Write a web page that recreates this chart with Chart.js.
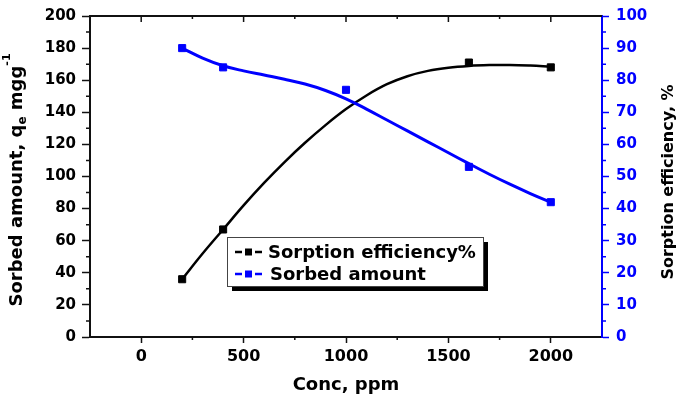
<!DOCTYPE html>
<html lang="en">
<head>
    <meta charset="UTF-8">
    <title>Sorption vs Conc</title>
    <style>
        * { margin: 0; padding: 0; box-sizing: border-box; }
        body { background: #fff; width: 685px; height: 402px; overflow: hidden; }
        .chart-box { position: relative; width: 685px; height: 402px; }
        canvas { display: block; }
    </style>
</head>
<body>
    <div class="chart-box"><canvas id="chart" width="685" height="402"></canvas></div>

    <script src="https://cdn.jsdelivr.net/npm/chart.js"></script>
    <script>
        // measured points
        const concBlack = [200, 400, 1600, 2000];
        const effPoints = [36, 67, 171, 168];
        const concBlue = [200, 400, 1000, 1600, 2000];
        const sorbPoints = [90, 84, 77, 53, 42];

        // fitted curves
        const concFit = [200, 300, 400, 500, 600, 700, 800, 900, 1000, 1100, 1200, 1300, 1400, 1500, 1600, 1700, 1800, 1900, 2000];
        const effCurve = [36, 52, 67, 82, 96, 109, 121, 132, 142, 150.5, 157.5, 162.5, 165.8, 167.8, 168.9, 169.4, 169.5, 169.1, 168.4];
        const sorbCurve = [90, 86.9, 84.5, 82.9, 81.6, 80.3, 78.8, 76.8, 74.2, 71.0, 67.6, 64.2, 60.8, 57.4, 54.0, 50.7, 47.6, 44.7, 42.0];

        const xTicks = [0, 500, 1000, 1500, 2000];
        const labels = ['Sorption efficiency%', 'Sorbed amount'];

        const BLUE = '#0000ff';
        const FONT = '"DejaVu Sans", sans-serif';

        const pts = (xs, ys) => xs.map((x, i) => ({ x: x, y: ys[i] }));

        // minor ticks, top ticks, y titles, legend box
        const extras = {
            id: 'extras',
            afterDraw(chart) {
                const { ctx, chartArea: a, scales } = chart;
                const x = scales.x, y = scales.y, y1 = scales.y1;
                ctx.save();

                // top frame
                ctx.strokeStyle = '#111';
                ctx.lineWidth = 2;
                ctx.beginPath();
                ctx.moveTo(a.left, a.top);
                ctx.lineTo(a.right, a.top);
                ctx.stroke();

                ctx.lineWidth = 1.5;
                ctx.beginPath();
                for (let v = -250; v <= 2250; v += 250) {
                    const px = x.getPixelForValue(v);
                    if (px <= a.left + 1 || px >= a.right - 1) continue;
                    const major = v % 500 === 0;
                    // top (inward)
                    ctx.moveTo(px, a.top);
                    ctx.lineTo(px, a.top + (major ? 6 : 3));
                    // bottom minor
                    if (!major) {
                        ctx.moveTo(px, a.bottom);
                        ctx.lineTo(px, a.bottom + 3);
                    }
                }
                for (let v = 10; v < 200; v += 20) {
                    const py = y.getPixelForValue(v);
                    ctx.moveTo(a.left, py);
                    ctx.lineTo(a.left - 4, py);
                }
                ctx.stroke();

                ctx.strokeStyle = BLUE;
                ctx.beginPath();
                for (let v = 5; v < 100; v += 10) {
                    const py = y1.getPixelForValue(v);
                    ctx.moveTo(a.right, py);
                    ctx.lineTo(a.right + 4, py);
                }
                ctx.stroke();

                // y titles
                ctx.fillStyle = '#000';
                ctx.textBaseline = 'middle';
                drawRich(ctx, 17, 180, [
                    { t: 'Sorbed amount, q', s: 18, dy: 0 },
                    { t: 'e', s: 12, dy: 6 },
                    { t: ' mgg', s: 18, dy: 0 },
                    { t: '-1', s: 11, dy: -10 }
                ]);
                drawRich(ctx, 669, 182, [{ t: 'Sorption efficiency, %', s: 16, dy: 0 }]);

                // legend
                const L = { l: 227, t: 237, w: 256, h: 49 };
                ctx.fillStyle = '#000';
                ctx.fillRect(L.l + 5, L.t + 5, L.w, L.h);
                ctx.fillStyle = '#fff';
                ctx.fillRect(L.l, L.t, L.w, L.h);
                ctx.strokeStyle = '#444';
                ctx.lineWidth = 1;
                ctx.strokeRect(L.l + 0.5, L.t + 0.5, L.w, L.h);

                const rows = [{ c: '#000', y: L.t + 15 }, { c: BLUE, y: L.t + 37 }];
                rows.forEach((r, i) => {
                    ctx.strokeStyle = r.c;
                    ctx.fillStyle = r.c;
                    ctx.lineWidth = 2.5;
                    ctx.beginPath();
                    ctx.moveTo(L.l + 8, r.y); ctx.lineTo(L.l + 15, r.y);
                    ctx.moveTo(L.l + 28, r.y); ctx.lineTo(L.l + 35, r.y);
                    ctx.stroke();
                    ctx.fillRect(L.l + 18, r.y - 3.5, 7, 7);
                    ctx.fillStyle = '#000';
                    ctx.font = 'bold 18px ' + FONT;
                    ctx.textAlign = 'left';
                    ctx.textBaseline = 'middle';
                    ctx.fillText(labels[i], L.l + 41 + (i ? 2 : 0), r.y + 1);
                });
                ctx.restore();
            }
        };

        // vertical text, bottom to top, with sub/superscript parts
        function drawRich(ctx, cx, cy, parts) {
            ctx.save();
            ctx.translate(cx, cy);
            ctx.rotate(-Math.PI / 2);
            let total = 0;
            parts.forEach(p => { ctx.font = 'bold ' + p.s + 'px ' + FONT; p.w = ctx.measureText(p.t).width; total += p.w; });
            let xx = -total / 2;
            ctx.textAlign = 'left';
            parts.forEach(p => {
                ctx.font = 'bold ' + p.s + 'px ' + FONT;
                ctx.fillText(p.t, xx, p.dy);
                xx += p.w;
            });
            ctx.restore();
        }

        new Chart(document.getElementById('chart'), {
            type: 'line',
            data: {
                datasets: [
                    { label: labels[0], data: pts(concBlack, effPoints), yAxisID: 'y', showLine: false,
                      pointStyle: 'rect', pointRadius: 5, backgroundColor: '#000', borderColor: '#000', order: 1 },
                    { label: labels[1], data: pts(concBlue, sorbPoints), yAxisID: 'y1', showLine: false,
                      pointStyle: 'rect', pointRadius: 5, backgroundColor: BLUE, borderColor: BLUE, order: 0 },
                    { label: 'fit1', data: pts(concFit, effCurve), yAxisID: 'y', pointRadius: 0,
                      borderColor: '#000', borderWidth: 2.5, tension: 0.4, order: 3 },
                    { label: 'fit2', data: pts(concFit, sorbCurve), yAxisID: 'y1', pointRadius: 0,
                      borderColor: BLUE, borderWidth: 3, tension: 0.4, order: 2 }
                ]
            },
            options: {
                responsive: false,
                animation: false,
                devicePixelRatio: 1,
                layout: { padding: { top: 12, left: 0, right: 0, bottom: 0 } },
                plugins: { legend: { display: false }, tooltip: { enabled: false } },
                scales: {
                    x: {
                        type: 'linear', min: -250, max: 2250,
                        afterBuildTicks: s => { s.ticks = xTicks.map(v => ({ value: v })); },
                        afterFit: s => { s.height = 65; },
                        border: { color: '#111', width: 2 },
                        grid: { drawOnChartArea: false, tickLength: 6, tickColor: '#111', tickWidth: 1.5 },
                        ticks: { color: '#000', padding: 4, maxRotation: 0, autoSkip: false,
                                 callback: v => String(v),
                                 font: { family: FONT, size: 16, weight: 'bold' } },
                        title: { display: true, text: 'Conc, ppm', color: '#000',
                                 padding: { top: 0, bottom: 6 }, font: { family: FONT, size: 18, weight: 'bold' } }
                    },
                    y: {
                        position: 'left', min: 0, max: 200,
                        afterFit: s => { s.width = 90; },
                        border: { color: '#111', width: 2 },
                        grid: { drawOnChartArea: false, tickLength: 8, tickColor: '#111', tickWidth: 1.5 },
                        ticks: { stepSize: 20, color: '#000', padding: 6, autoSkip: false,
                                 font: { family: FONT, size: 15, weight: 'bold' } }
                    },
                    y1: {
                        position: 'right', min: 0, max: 100,
                        afterFit: s => { s.width = 83; },
                        border: { color: BLUE, width: 2 },
                        grid: { drawOnChartArea: false, tickLength: 7, tickColor: BLUE, tickWidth: 1.5 },
                        ticks: { stepSize: 10, color: BLUE, padding: 7, autoSkip: false,
                                 font: { family: FONT, size: 15, weight: 'bold' } }
                    }
                }
            },
            plugins: [extras]
        });
    </script>
</body>
</html>
